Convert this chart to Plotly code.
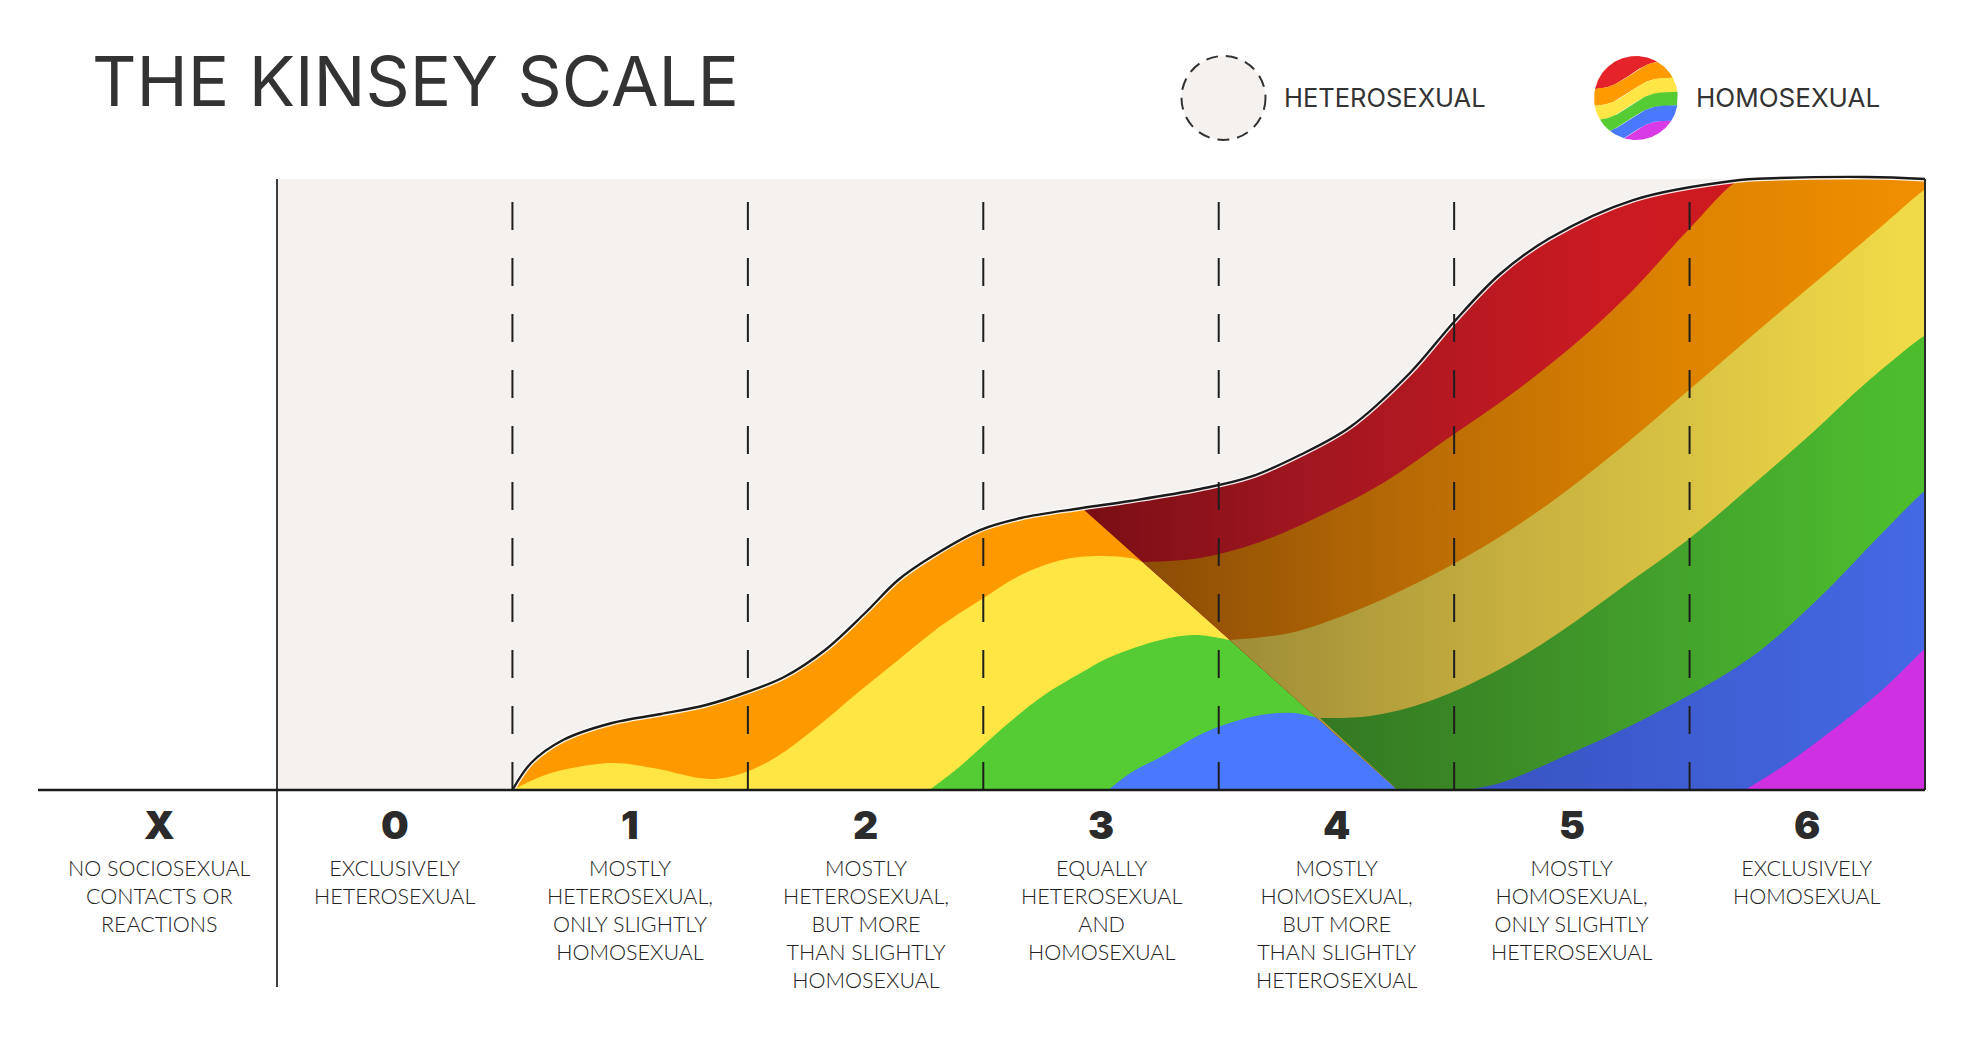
import numpy as np
import plotly.graph_objects as go

# ---------------------------------------------------------------- data ----
SCALE_LABELS = ["X", "0", "1", "2", "3", "4", "5", "6"]
SCALE_POS = [-1, 0, 1, 2, 3, 4, 5, 6]
SCALE_TEXT = [
    "NO SOCIOSEXUAL<br>CONTACTS OR<br>REACTIONS",
    "EXCLUSIVELY<br>HETEROSEXUAL",
    "MOSTLY<br>HETEROSEXUAL,<br>ONLY SLIGHTLY<br>HOMOSEXUAL",
    "MOSTLY<br>HETEROSEXUAL,<br>BUT MORE<br>THAN SLIGHTLY<br>HOMOSEXUAL",
    "EQUALLY<br>HETEROSEXUAL<br>AND<br>HOMOSEXUAL",
    "MOSTLY<br>HOMOSEXUAL,<br>BUT MORE<br>THAN SLIGHTLY<br>HETEROSEXUAL",
    "MOSTLY<br>HOMOSEXUAL,<br>ONLY SLIGHTLY<br>HETEROSEXUAL",
    "EXCLUSIVELY<br>HOMOSEXUAL",
]
DIVIDERS = [0.5, 1.5, 2.5, 3.5, 4.5, 5.5]
TITLE = "THE KINSEY SCALE"
LEGEND_LABELS = ["HETEROSEXUAL", "HOMOSEXUAL"]

# outer envelope (x in scale units, y in % of full height)
ENV_X = [0.50, 0.579, 0.715, 0.923, 1.131, 1.322, 1.496, 1.654, 1.828, 1.998, 2.138,
         2.278, 2.486, 2.660, 2.919, 3.123, 3.421, 3.633, 3.845, 4.058, 4.312, 4.499,
         4.695, 4.907, 5.260, 5.714, 5.820, 6.254, 6.50]
ENV_Y = [0.0, 4.42, 8.18, 10.97, 12.44, 13.91, 16.04, 18.49, 22.91, 28.97, 34.37,
         38.13, 42.55, 44.52, 46.15, 47.30, 49.26, 51.23, 54.83, 59.41, 68.25, 76.60,
         84.45, 90.34, 96.56, 99.84, 100.08, 100.33, 100.0]

# diagonal split between the two rainbows
DIAG_TOP = (2.919, 46.15)
DIAG_FOOT = (4.26, 0.0)

# left rainbow: top edges of yellow, green, blue
LY_X = [0.50, 0.664, 0.924, 1.098, 1.340, 1.480, 1.621, 1.793, 1.965, 2.139, 2.313,
        2.488, 2.660, 2.832, 2.972, 3.125, 3.178]
LY_Y = [0.0, 2.78, 4.42, 3.60, 1.80, 2.78, 5.40, 10.31, 15.88, 21.28, 26.68,
        31.10, 35.19, 37.64, 38.30, 37.97, 37.32]
LG_X = [2.271, 2.398, 2.573, 2.747, 2.921, 3.040, 3.253, 3.393, 3.548]
LG_Y = [0.0, 3.76, 9.82, 15.22, 19.31, 21.77, 24.55, 25.37, 24.55]
LB_X = [3.032, 3.125, 3.253, 3.465, 3.678, 3.818, 3.930]
LB_Y = [0.0, 2.78, 5.40, 9.82, 12.27, 12.60, 11.78]

# right rainbow: bottom edges of red, orange, yellow, green, blue
RB_X = [3.178, 3.421, 3.675, 3.930, 4.198, 4.482, 4.767, 5.047, 5.260, 5.502, 5.714]
RB_Y = [37.32, 37.97, 40.59, 44.84, 50.25, 57.77, 65.47, 74.14, 81.83, 91.98, 99.84]
OB_X = [3.548, 3.803, 4.058, 4.342, 4.623, 4.907, 5.192, 5.502, 5.799, 6.096, 6.322, 6.50]
OB_Y = [24.55, 25.70, 28.97, 33.88, 39.77, 46.97, 55.48, 65.63, 75.45, 85.11, 92.47, 98.20]
YB_X = [3.930, 4.143, 4.397, 4.695, 4.950, 5.204, 5.502, 5.757, 6.011, 6.254, 6.50]
YB_Y = [11.78, 12.11, 14.57, 19.80, 25.86, 32.90, 41.24, 49.59, 58.10, 66.78, 74.30]
GB_X = [4.546, 4.695, 4.979, 5.332, 5.757, 6.041, 6.322, 6.50]
GB_Y = [0.0, 1.15, 5.73, 12.11, 21.60, 31.10, 42.23, 48.94]
BB_X = [5.735, 5.905, 6.096, 6.309, 6.50]
BB_Y = [0.0, 4.09, 9.49, 16.04, 23.08]

# ------------------------------------------------------------- layout -----
W, H = 1963, 1039
X0_PX, UNIT_X = 277.0, 235.43     # pixel of x=-0.5, pixels per scale unit
BASE_PX, UNIT_Y = 790.0, 6.11     # pixel of y=0, pixels per % unit


def px2x(px):
    return (px - X0_PX) / UNIT_X - 0.5


def py2y(py):
    return (BASE_PX - py) / UNIT_Y


X_RANGE = [px2x(0), px2x(W)]
Y_RANGE = [py2y(H), py2y(0)]

TS = [0.003, 0.015, 0.06, 0.18, 0.35, 0.5, 0.65, 0.82, 0.94, 0.985, 0.997, 1.0]


def edge(p0, p1):
    return ([p0[0] + (p1[0] - p0[0]) * t for t in TS],
            [p0[1] + (p1[1] - p0[1]) * t for t in TS])


def join(*parts):
    xs, ys = [], []
    for px_, py_ in parts:
        xs += list(px_)
        ys += list(py_)
    return xs, ys


fig = go.Figure()


def band(xs, ys, color=None, grad=None):
    kw = dict(x=xs, y=ys, mode="lines", fill="toself",
              line=dict(width=0, shape="spline", smoothing=1, simplify=False,
                        color="rgba(0,0,0,0)"),
              hoverinfo="skip", showlegend=False)
    if grad is not None:
        kw["fillgradient"] = grad
    else:
        kw["fillcolor"] = color
    fig.add_trace(go.Scatter(**kw))


RIGHT = 6.5
# ---- left rainbow
band(*join((ENV_X, ENV_Y), edge((RIGHT, ENV_Y[-1]), (RIGHT, 0))), color="#FE9A00")
band(*join((LY_X, LY_Y), ([RIGHT], [0])), color="#FFE645")
band(*join((LG_X, LG_Y), ([RIGHT], [0])), color="#55CC33")
band(*join((LB_X, LB_Y), ([RIGHT], [0])), color="#4A78FF")

# ---- right rainbow (drawn on top, bounded by the diagonal)
after_top = [i for i, x in enumerate(ENV_X) if x > DIAG_TOP[0]]
env_after_x = [ENV_X[i] for i in after_top]
env_after_y = [ENV_Y[i] for i in after_top]
tail = [i for i, x in enumerate(ENV_X) if x > RB_X[-1]]
env_tail_x = [ENV_X[i] for i in tail]
env_tail_y = [ENV_Y[i] for i in tail]


def hgrad(start, stop, stops):
    return dict(type="horizontal", start=start, stop=stop, colorscale=stops)


band(*join(([DIAG_TOP[0]], [DIAG_TOP[1]]), (env_after_x, env_after_y),
           edge((RIGHT, ENV_Y[-1]), (RIGHT, 0)), edge((RIGHT, 0), DIAG_FOOT)),
     grad=hgrad(2.95, 5.4, [[0, "#7A0E15"], [0.37, "#A01620"], [0.85, "#C81A22"], [1, "#CD1A21"]]))
band(*join((RB_X, RB_Y), (env_tail_x, env_tail_y),
           edge((RIGHT, ENV_Y[-1]), (RIGHT, 0)), edge((RIGHT, 0), DIAG_FOOT)),
     grad=hgrad(3.25, 6.4, [[0, "#8E4E05"], [0.33, "#B76A05"], [0.7, "#DD8300"], [1, "#EF8E00"]]))
band(*join((OB_X, OB_Y), edge((RIGHT, OB_Y[-1]), (RIGHT, 0)), edge((RIGHT, 0), DIAG_FOOT)),
     grad=hgrad(3.6, 6.4, [[0, "#A08E38"], [0.41, "#C7B03F"], [1, "#F0DA48"]]))
band(*join((YB_X, YB_Y), edge((RIGHT, YB_Y[-1]), (RIGHT, 0)), edge((RIGHT, 0), DIAG_FOOT)),
     grad=hgrad(3.95, 6.4, [[0, "#347922"], [0.35, "#3D8E27"], [0.6, "#43A22C"], [1, "#4DBD2E"]]))
band(*join((GB_X, GB_Y), edge((RIGHT, GB_Y[-1]), (RIGHT, 0))),
     grad=hgrad(4.5, 6.5, [[0, "#3852C0"], [1, "#4469E4"]]))
band(*join((BB_X, BB_Y), edge((RIGHT, BB_Y[-1]), (RIGHT, 0))), color="#CF30E2")

# envelope outline
for w, c in [(5, "rgba(255,255,255,0.9)"), (2.4, "#1B1B1B")]:
    fig.add_trace(go.Scatter(x=ENV_X, y=ENV_Y, mode="lines", hoverinfo="skip",
                             showlegend=False,
                             line=dict(width=w, color=c, shape="spline", simplify=False)))

# ---- legend rainbow icon (decoration)
cx, cy, r = 1636.0, 98.0, 42.0
ICON_COLORS = ["#E5232A", "#FF9A00", "#FFE545", "#55CC33", "#4A78FF", "#D83AE6"]
ICON_OFFS = [0.60, 0.20, -0.14, -0.46, -0.82]
u = np.linspace(-1, 1, 241)
circ = np.sqrt(np.clip(1 - u ** 2, 0, None))


def wave(c):
    return c + 0.36 * u + 0.10 * np.sin(3.4 * u + 0.5)


bounds = [np.full_like(u, 9.0)] + [wave(c) for c in ICON_OFFS] + [np.full_like(u, -9.0)]
for k, col in enumerate(ICON_COLORS):
    top = np.minimum(bounds[k], circ)
    bot = np.maximum(bounds[k + 1], -circ)
    ok = top > bot
    if not ok.any():
        continue
    uu = u[ok]
    px_ = np.concatenate([cx + uu * r, (cx + uu * r)[::-1]])
    py_ = np.concatenate([cy - top[ok] * r, (cy - bot[ok] * r)[::-1]])
    fig.add_trace(go.Scatter(x=px2x(px_), y=py2y(py_), mode="lines", fill="toself",
                             fillcolor=col, line=dict(width=0, color=col),
                             hoverinfo="skip", showlegend=False))

# ---------------------------------------------------------------- shapes --
shapes = [
    dict(type="rect", xref="x", yref="y", x0=-0.5, x1=6.5, y0=0, y1=100,
         fillcolor="#F5F1EE", line=dict(width=0), layer="below"),
]
for d in DIVIDERS:
    shapes.append(dict(type="line", xref="x", yref="y", x0=d, x1=d,
                       y0=py2y(202), y1=0, layer="above",
                       line=dict(color="#1E1E1E", width=2, dash="28px,28px")))
shapes += [
    dict(type="line", xref="x", yref="y", x0=-0.5, x1=-0.5, y0=100, y1=py2y(987),
         layer="above", line=dict(color="#2A2A2A", width=1.8)),
    dict(type="line", xref="x", yref="y", x0=6.5, x1=6.5, y0=100, y1=0,
         layer="above", line=dict(color="#2A2A2A", width=2)),
    dict(type="line", xref="x", yref="y", x0=px2x(38), x1=6.5, y0=0, y1=0,
         layer="above", line=dict(color="#1A1A1A", width=2.6)),
    dict(type="circle", xref="x", yref="y", x0=px2x(1181.5), x1=px2x(1265.5),
         y0=py2y(56), y1=py2y(140), fillcolor="#F5F1EE", layer="above",
         line=dict(color="#333333", width=2, dash="12px,8px")),
]

# ----------------------------------------------------------- annotations --
ann = [
    dict(text=TITLE, x=px2x(90), y=py2y(81), xref="x", yref="y", xanchor="left",
         yanchor="middle", showarrow=False,
         font=dict(family="Inter", size=69, color="#333333")),
    dict(text=LEGEND_LABELS[0], x=px2x(1282), y=py2y(97), xref="x", yref="y",
         xanchor="left", yanchor="middle", showarrow=False,
         font=dict(family="Inter", size=25.5, color="#333333")),
    dict(text=LEGEND_LABELS[1], x=px2x(1694), y=py2y(97), xref="x", yref="y",
         xanchor="left", yanchor="middle", showarrow=False,
         font=dict(family="Inter", size=26, color="#333333")),
]
for lab, pos, txt in zip(SCALE_LABELS, SCALE_POS, SCALE_TEXT):
    ann.append(dict(text=lab, x=pos, y=py2y(824), xref="x", yref="y",
                    xanchor="center", yanchor="middle", showarrow=False,
                    font=dict(family="Inter", size=39, weight=900, color="#2B2B2B")))
    ann.append(dict(text=txt, x=pos, y=py2y(853), xref="x", yref="y",
                    xanchor="center", yanchor="top", align="center", showarrow=False,
                    font=dict(family="Lato", size=21.5, weight=300, color="#222222")))

fig.update_layout(
    width=W, height=H, autosize=False,
    margin=dict(l=0, r=0, t=0, b=0, pad=0),
    paper_bgcolor="white", plot_bgcolor="rgba(0,0,0,0)",
    xaxis=dict(range=X_RANGE, domain=[0, 1], visible=False, fixedrange=True),
    yaxis=dict(range=Y_RANGE, domain=[0, 1], visible=False, fixedrange=True),
    shapes=shapes, annotations=ann, showlegend=False,
)

fig.write_html("out.html")
